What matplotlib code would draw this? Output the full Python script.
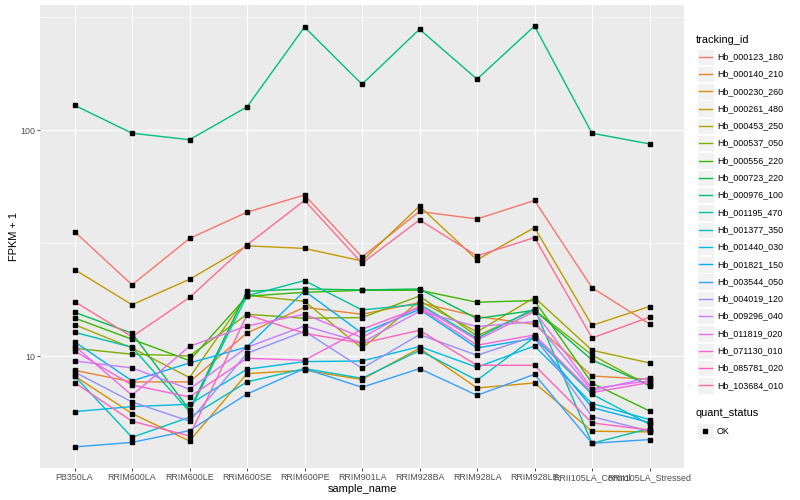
import matplotlib
matplotlib.use('Agg')
import matplotlib.pyplot as plt
import numpy as np
from matplotlib.lines import Line2D
from matplotlib.patches import Rectangle
from matplotlib.ticker import FixedLocator, NullFormatter

plt.rcParams['font.family'] = ['Liberation Sans', 'DejaVu Sans']

# ============= DATA (FPKM + 1) =============
samples = ['PB350LA', 'RRIM600LA', 'RRIM600LE', 'RRIM600SE', 'RRIM600PE', 'RRIM901LA',
           'RRIM928BA', 'RRIM928LA', 'RRIM928LE', 'RRII105LA_Control', 'RRII105LA_Stressed']

hb_000123_180 = [35.6, 20.7, 33.2, 43.4, 51.7, 27.5, 43.7, 40.5, 48.9, 20.1, 13.9]
hb_000140_210 = [8.67, 7.70, 7.70, 12.68, 16.47, 15.34, 17.28, 14.99, 13.85, 8.18, 7.91]
hb_000230_260 = [8.18, 5.58, 4.22, 8.38, 8.67, 7.89, 10.85, 7.24, 7.62, 4.66, 4.63]
hb_000261_480 = [24.2, 16.9, 21.9, 30.8, 30.0, 26.4, 46.2, 26.7, 37.1, 13.7, 16.6]
hb_000453_250 = [13.81, 10.88, 8.05, 18.62, 17.51, 10.85, 17.57, 12.81, 18.19, 10.63, 9.34]
hb_000537_050 = [10.85, 10.21, 10.03, 15.34, 14.73, 14.83, 18.48, 12.30, 16.03, 10.13, 7.39]
hb_000556_220 = [14.77, 11.89, 9.57, 18.43, 19.19, 19.59, 19.59, 17.34, 17.64, 7.60, 5.73]
hb_000723_220 = [15.66, 12.64, 5.79, 19.39, 19.85, 19.65, 19.85, 14.68, 15.98, 9.63, 7.44]
hb_000976_100 = [129.0, 97.0, 90.8, 126.8, 286.0, 159.8, 279.8, 168.2, 289.0, 97.0, 87.0]
hb_001195_470 = [12.77, 10.96, 5.69, 18.52, 21.62, 16.03, 16.99, 12.01, 16.26, 4.12, 4.79]
hb_001377_350 = [8.18, 4.38, 5.37, 7.70, 8.82, 7.99, 10.60, 7.83, 12.14, 6.79, 5.00]
hb_001440_030 = [5.69, 5.99, 6.13, 8.76, 9.47, 9.53, 11.04, 8.94, 11.11, 6.18, 5.25]
hb_001821_150 = [11.59, 7.78, 9.34, 10.99, 19.45, 12.64, 16.14, 10.88, 12.01, 5.93, 5.09]
hb_003544_050 = [3.97, 4.16, 4.69, 6.81, 8.82, 7.29, 8.82, 6.72, 8.32, 4.12, 4.28]
hb_004019_120 = [8.52, 6.28, 5.16, 10.31, 12.90, 8.85, 12.47, 10.10, 12.26, 5.41, 4.66]
hb_009296_040 = [9.53, 8.88, 7.15, 10.96, 13.62, 11.50, 15.82, 13.53, 14.24, 7.05, 8.05]
hb_011819_020 = [11.11, 6.72, 11.07, 13.62, 15.34, 12.10, 16.69, 11.81, 15.77, 7.20, 7.78]
hb_071130_010 = [10.55, 7.46, 6.61, 9.80, 9.60, 13.17, 16.42, 11.19, 12.42, 6.91, 7.65]
hb_085781_020 = [7.65, 5.16, 4.44, 15.26, 12.64, 11.42, 13.03, 9.12, 9.12, 5.07, 4.72]
hb_103684_010 = [17.46, 12.2, 18.2, 31.1, 48.9, 25.8, 40.1, 27.8, 33.5, 12.05, 14.9]

tracking_ids = ['Hb_000123_180', 'Hb_000140_210', 'Hb_000230_260', 'Hb_000261_480',
                'Hb_000453_250', 'Hb_000537_050', 'Hb_000556_220', 'Hb_000723_220',
                'Hb_000976_100', 'Hb_001195_470', 'Hb_001377_350', 'Hb_001440_030',
                'Hb_001821_150', 'Hb_003544_050', 'Hb_004019_120', 'Hb_009296_040',
                'Hb_011819_020', 'Hb_071130_010', 'Hb_085781_020', 'Hb_103684_010']
series = [hb_000123_180, hb_000140_210, hb_000230_260, hb_000261_480, hb_000453_250,
          hb_000537_050, hb_000556_220, hb_000723_220, hb_000976_100, hb_001195_470,
          hb_001377_350, hb_001440_030, hb_001821_150, hb_003544_050, hb_004019_120,
          hb_009296_040, hb_011819_020, hb_071130_010, hb_085781_020, hb_103684_010]

# ggplot2 hue palette, 20 levels
colors = ['#F8766D', '#EA8331', '#D89000', '#C09B00', '#A3A500', '#7CAE00', '#39B600',
          '#00BB4E', '#00BF7D', '#00C1A3', '#00BFC4', '#00BAE0', '#00B0F6', '#35A2FF',
          '#9590FF', '#C77CFF', '#E76BF3', '#FA62DB', '#FF62BC', '#FF6C91']

# ============= PLOT =============
W, H = 800, 500
fig = plt.figure(figsize=(8, 5), dpi=100)
ax = fig.add_axes([40 / W, 1 - 468 / H, (684 - 40) / W, (468 - 5) / H])
ax.set_facecolor('#EBEBEB')
for s in ax.spines.values():
    s.set_visible(False)

x = np.arange(len(samples))
for vals, c in zip(series, colors):
    ax.plot(x, vals, color=c, lw=1.0, zorder=3)
for vals in series:
    ax.plot(x, vals, ls='none', marker='s', ms=2.5, color='black', zorder=4)

ax.set_yscale('log')
logs = np.log10(np.concatenate([np.array(v) for v in series]))
lo, hi = logs.min(), logs.max()
pad = (hi - lo) * 0.05
ax.set_ylim(10 ** (lo - pad), 10 ** (hi + pad))
ax.set_xlim(-0.6, len(samples) - 0.4)

ax.set_yticks([10, 100])
ax.set_yticklabels(['10', '100'])
ax.yaxis.set_minor_locator(FixedLocator([10 ** 0.5, 10 ** 1.5, 10 ** 2.5]))
ax.yaxis.set_minor_formatter(NullFormatter())
ax.set_xticks(x)
ax.set_xticklabels(samples)

ax.grid(True, which='major', color='white', lw=0.85, zorder=1)
ax.grid(True, which='minor', axis='y', color='white', lw=0.45, zorder=1)
ax.set_axisbelow(True)
ax.tick_params(which='major', length=2.2, width=0.6, color='#333333',
               labelcolor='#4D4D4D', labelsize=6.4, pad=1.5)
ax.tick_params(which='minor', length=0)

ax.set_xlabel('sample_name', fontsize=7.9, labelpad=1.5)
ax.set_ylabel('FPKM + 1', fontsize=7.9, labelpad=0.5)

# ============= LEGEND (ggplot style) =============
def fx(px):
    return px / W

def fy(py):
    return 1 - py / H

fig.text(fx(696), fy(40), 'tracking_id', fontsize=7.9, va='center', ha='left')
step = 17.3
for i, (lab, c) in enumerate(zip(tracking_ids, colors)):
    yc = 56.7 + i * step
    fig.add_artist(Rectangle((fx(697), fy(yc + 8.2)), 16.5 / W, 16.4 / H,
                             transform=fig.transFigure, facecolor='#F2F2F2',
                             edgecolor='white', lw=0.6))
    fig.add_artist(Line2D([fx(699), fx(712)], [fy(yc), fy(yc)], color=c, lw=1.0,
                          transform=fig.transFigure))
    fig.text(fx(717), fy(yc), lab, fontsize=6.4, va='center', ha='left')

fig.text(fx(696), fy(413), 'quant_status', fontsize=7.9, va='center', ha='left')
yc = 431
fig.add_artist(Rectangle((fx(697), fy(yc + 8.2)), 16.5 / W, 16.4 / H,
                         transform=fig.transFigure, facecolor='#F2F2F2',
                         edgecolor='white', lw=0.6))
fig.add_artist(Line2D([fx(705)], [fy(yc)], marker='s', ms=2.5, color='black',
                      transform=fig.transFigure))
fig.text(fx(717), fy(yc), 'OK', fontsize=6.4, va='center', ha='left')

fig.savefig('out.png', dpi=100, facecolor='white')
